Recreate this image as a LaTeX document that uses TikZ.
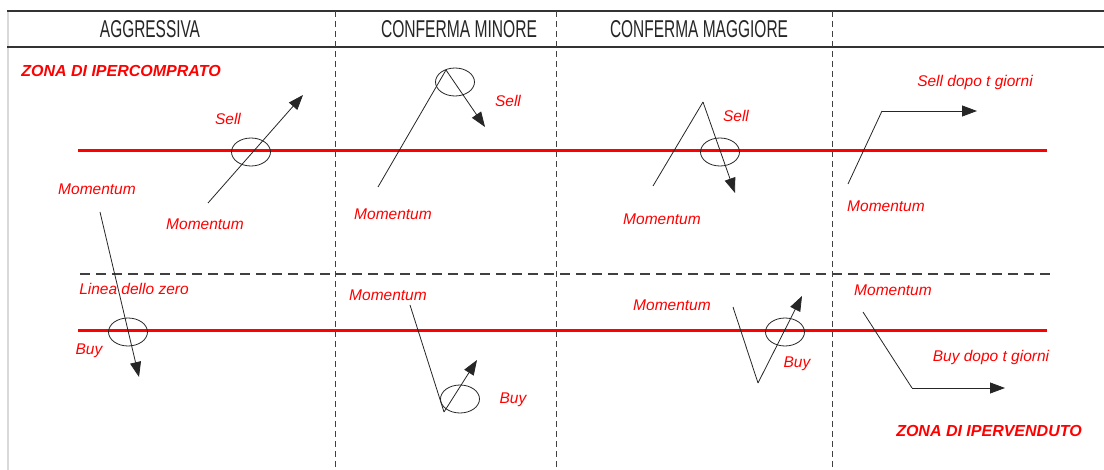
\documentclass[tikz,border=0pt]{standalone}
\usepackage{fontspec}
\setmainfont{Liberation Sans}
\usepackage{graphicx}
\usetikzlibrary{arrows.meta,shapes.geometric}
\begin{document}
\begin{tikzpicture}[x=1pt,y=-1pt,
  redline/.style={red, line width=2.6pt},
  vdash/.style={black!75, line width=1pt, dash pattern=on 6pt off 4pt},
  zerodash/.style={black!75, line width=2.6pt, dash pattern=on 10pt off 6pt},
  hline/.style={black!80, line width=2pt},
  mom/.style={black!85, line width=0.8pt},
  arr/.style={mom, -{Triangle[length=15pt,width=11pt]}},
  ring/.style={draw=black!85, line width=0.8pt, ellipse, minimum width=39pt, minimum height=28pt, inner sep=0pt},
  lbl/.style={text=red, font=\fontsize{15.5}{15.5}\selectfont\itshape, inner sep=0pt, anchor=base},
  zone/.style={text=red, font=\fontsize{16}{16}\selectfont\bfseries\itshape, inner sep=0pt, anchor=base},
  hdr/.style={inner sep=0pt, text=black!85, anchor=base}
]
\useasboundingbox (0,0) rectangle (1104,470);
\fill[white] (0,0) rectangle (1104,470);

% frame and header
\coordinate (tl) at (7,11.5);  \coordinate (tr) at (1104,11.5);
\coordinate (bl) at (7,47);    \coordinate (br) at (1104,47);
\coordinate (lb1) at (8,11.5); \coordinate (lb2) at (8,470);
\draw[black!15, line width=1.5pt] (lb1) -- (lb2);
\draw[hline] (tl) -- (tr);
\draw[hline, line width=1.8pt] (bl) -- (br);

\foreach \x/\n in {335.5/a,556.5/b,832/c}{
  \coordinate (v\n1) at (\x,11.5); \coordinate (v\n2) at (\x,470);
  \draw[vdash] (v\n1) -- (v\n2);
}

\node[hdr] (h1) at (150,37.5) {\resizebox{100pt}{17pt}{AGGRESSIVA}};
\node[hdr] (h2) at (459,37.5) {\resizebox{156pt}{17pt}{CONFERMA MINORE}};
\node[hdr] (h3) at (699,37.5) {\resizebox{178pt}{17pt}{CONFERMA MAGGIORE}};

% reference lines
\coordinate (ru1) at (78,150.7);  \coordinate (ru2) at (1047,150.7);
\coordinate (rl1) at (78,330.7);  \coordinate (rl2) at (1047,330.7);
\coordinate (z1) at (80,274);     \coordinate (z2) at (1050,274);
\draw[redline] (ru1) -- (ru2);
\draw[redline] (rl1) -- (rl2);
\draw[zerodash] (z1) -- (z2);

% ellipses
\node[ring] (e1) at (251,152) {};
\node[ring] (e2) at (128,332) {};
\node[ring] (e3) at (455,82) {};
\node[ring] (e4) at (460,399) {};
\node[ring] (e5) at (720,152) {};
\node[ring] (e6) at (785,332) {};

% momentum paths
\coordinate (a1s) at (208,203); \coordinate (a1t) at (303,95);
\draw[arr] (a1s) -- (a1t);
\coordinate (a2s) at (100,212); \coordinate (a2t) at (139,377);
\draw[arr] (a2s) -- (a2t);
\coordinate (a3s) at (378,187); \coordinate (a3p) at (446,70); \coordinate (a3t) at (485,127);
\draw[mom] (a3s) -- (a3p); \draw[arr] (a3p) -- (a3t);
\coordinate (a4s) at (410,305); \coordinate (a4p) at (444,412); \coordinate (a4t) at (477,360);
\draw[mom] (a4s) -- (a4p); \draw[arr] (a4p) -- (a4t);
\coordinate (a5s) at (653,186); \coordinate (a5p) at (703,102); \coordinate (a5t) at (735,193);
\draw[mom] (a5s) -- (a5p); \draw[arr] (a5p) -- (a5t);
\coordinate (a6s) at (733,307); \coordinate (a6p) at (758,383); \coordinate (a6t) at (802,296);
\draw[mom] (a6s) -- (a6p); \draw[arr] (a6p) -- (a6t);
\coordinate (a7s) at (848,184); \coordinate (a7p) at (882,111); \coordinate (a7t) at (977,111);
\draw[mom] (a7s) -- (a7p); \draw[arr] (a7p) -- (a7t);
\coordinate (a8s) at (863,312); \coordinate (a8p) at (912,388); \coordinate (a8t) at (1005,388);
\draw[mom] (a8s) -- (a8p); \draw[arr] (a8p) -- (a8t);

% labels
\node[zone] (zc) at (121,77) {ZONA DI IPERCOMPRATO};
\node[zone] (zv) at (989,437) {ZONA DI IPERVENDUTO};
\node[lbl] (m1) at (97,195) {Momentum};
\node[lbl] (s1) at (228,125) {Sell};
\node[lbl] (m2) at (205,230) {Momentum};
\node[lbl] (lz) at (134,295) {Linea dello zero};
\node[lbl] (b1) at (89,355) {Buy};
\node[lbl] (s2) at (508,107) {Sell};
\node[lbl] (m3) at (393,220) {Momentum};
\node[lbl] (m4) at (388,301) {Momentum};
\node[lbl] (b2) at (513,404) {Buy};
\node[lbl] (s3) at (736,122) {Sell};
\node[lbl] (m5) at (662,225) {Momentum};
\node[lbl] (m6) at (672,311) {Momentum};
\node[lbl] (b3) at (797,368) {Buy};
\node[lbl] (s4) at (975,87) {Sell dopo t giorni};
\node[lbl] (m7) at (886,212) {Momentum};
\node[lbl] (m8) at (893,296) {Momentum};
\node[lbl] (b4) at (991,362) {Buy dopo t giorni};
\end{tikzpicture}
\end{document}
